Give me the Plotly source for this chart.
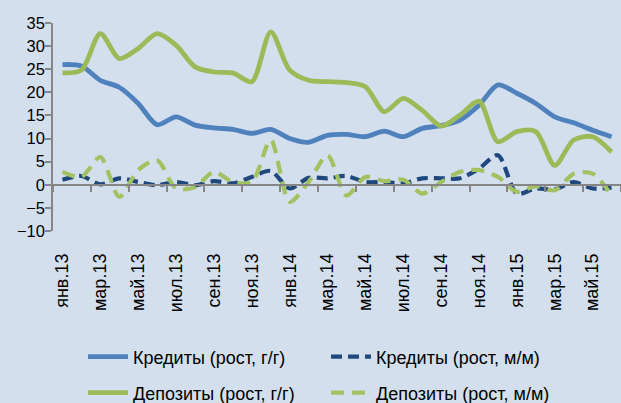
import plotly.graph_objects as go

months = ["янв.13", "фев.13", "мар.13", "апр.13", "май.13", "июн.13", "июл.13", "авг.13",
          "сен.13", "окт.13", "ноя.13", "дек.13", "янв.14", "фев.14", "мар.14", "апр.14",
          "май.14", "июн.14", "июл.14", "авг.14", "сен.14", "окт.14", "ноя.14", "дек.14",
          "янв.15", "фев.15", "мар.15", "апр.15", "май.15", "июн.15"]
tick_labels = months[::2]

credits_yoy = [26.0, 25.7, 22.6, 21.1, 17.6, 13.0, 14.7, 12.9, 12.3, 12.0, 11.1, 12.0, 10.0, 9.2,
               10.7, 10.9, 10.4, 11.6, 10.4, 12.2, 12.8, 14.0, 17.2, 21.6, 19.8, 17.6, 14.7, 13.4,
               11.8, 10.4]
credits_mom = [1.1, 1.9, 0.1, 1.4, 0.6, -0.1, 0.6, -0.1, 0.8, 0.3, 1.7, 3.0, -0.8, 1.5,
               1.4, 1.9, 0.6, 0.6, 0.3, 1.4, 1.4, 1.4, 3.5, 6.4, -1.9, -0.8, -1.0, 0.6,
               -0.8, -0.6]
deposits_yoy = [24.2, 24.8, 32.7, 27.3, 29.5, 32.7, 30.2, 25.5, 24.4, 24.2, 22.3, 33.1, 24.8, 22.6,
                22.3, 22.1, 21.2, 15.8, 18.7, 16.1, 12.7, 15.1, 18.1, 9.3, 11.5, 11.5, 4.2, 9.7,
                10.4, 7.1]
deposits_mom = [2.8, 1.7, 6.0, -2.6, 3.2, 5.3, -0.8, -0.5, 2.8, 0.6, 0.6, 9.7, -3.7, 0.6,
                6.4, -2.3, 1.7, 0.8, 1.1, -1.9, 0.6, 2.8, 3.2, 1.7, -1.5, -0.3, -1.2, 2.4,
                2.4, -2.3]

names = ["Кредиты (рост, г/г)", "Кредиты (рост, м/м)", "Депозиты (рост, г/г)", "Депозиты (рост, м/м)"]

FONT = "Liberation Sans Narrow, Liberation Sans, Arial, sans-serif"
BG = "#D4DFEE"
AXIS = "#868686"

fig = go.Figure()
fig.add_trace(go.Scatter(x=months, y=credits_yoy, name=names[0], mode="lines",
                         line=dict(color="#4F81BD", width=4.8, shape="spline", smoothing=0.8),
                         legend="legend"))
fig.add_trace(go.Scatter(x=months, y=credits_mom, name=names[1], mode="lines",
                         line=dict(color="#1F497D", width=4.2, shape="spline", smoothing=0.8,
                                   dash="11px,6px"),
                         legend="legend"))
fig.add_trace(go.Scatter(x=months, y=deposits_yoy, name=names[2], mode="lines",
                         line=dict(color="#9BBB59", width=4.8, shape="spline", smoothing=0.8),
                         legend="legend2"))
fig.add_trace(go.Scatter(x=months, y=deposits_mom, name=names[3], mode="lines",
                         line=dict(color="#A2C262", width=4.2, shape="spline", smoothing=0.8,
                                   dash="13px,8px"),
                         legend="legend2"))
# helper trace so the zero-line axis knows the categories
fig.add_trace(go.Scatter(x=months, y=[None] * len(months), xaxis="x2", yaxis="y",
                         mode="lines", showlegend=False, hoverinfo="skip"))

leg_common = dict(orientation="h", xref="container", yref="container",
                  xanchor="left", yanchor="middle",
                  entrywidth=188, entrywidthmode="pixels", bgcolor="rgba(0,0,0,0)",
                  font=dict(size=18, family=FONT), itemwidth=40, traceorder="normal")

fig.update_layout(
    width=621, height=403,
    margin=dict(l=53, r=0, t=23, b=172, autoexpand=False),
    paper_bgcolor=BG, plot_bgcolor=BG,
    font=dict(family=FONT, size=16, color="#000000"),
    xaxis=dict(type="category", categoryorder="array", categoryarray=months,
               range=[-0.5, 29.5], tickmode="array", tickvals=tick_labels, ticktext=tick_labels,
               tickangle=-90, ticks="", showline=False, showgrid=False, zeroline=False,
               ticklabelstandoff=18, tickfont=dict(size=18, family=FONT), automargin=False),
    xaxis2=dict(type="category", categoryorder="array", categoryarray=months,
                overlaying="x", anchor="free", position=10 / 45, matches="x",
                range=[-0.5, 29.5], showticklabels=False, showgrid=False, zeroline=False,
                showline=True, linecolor=AXIS, linewidth=1.5, automargin=False,
                ticks="outside", tickson="boundaries", dtick=2, ticklen=6,
                tickcolor=AXIS, tickwidth=1.5),
    yaxis=dict(range=[-10, 35], dtick=5, tick0=0, showgrid=False, zeroline=False,
               showline=True, linecolor=AXIS, linewidth=1.5, ticks="outside", ticklen=6,
               tickcolor=AXIS, tickwidth=1.5, tickfont=dict(size=16.5, family=FONT),
               ticklabelstandoff=-3, automargin=False),
    legend=dict(leg_common, x=83 / 621, y=1 - 357 / 403),
    legend2=dict(leg_common, x=83 / 621, y=1 - 393 / 403),
)

fig.write_html("out.html", config={"displayModeBar": False},
               post_script="document.body.style.margin='0';document.body.style.overflow='hidden';")
